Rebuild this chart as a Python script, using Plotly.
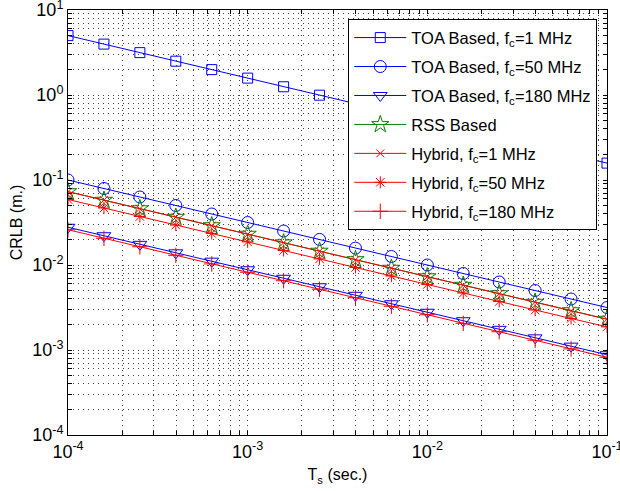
import plotly.graph_objects as go

# Sampling time (s): 5 points per decade
ts = [1.0e-4, 1.585e-4, 2.512e-4, 3.981e-4, 6.310e-4,
      1.0e-3, 1.585e-3, 2.512e-3, 3.981e-3, 6.310e-3,
      1.0e-2, 1.585e-2, 2.512e-2, 3.981e-2, 6.310e-2, 1.0e-1]

toa_1 = [5.0, 3.97, 3.15, 2.50, 1.99, 1.58, 1.25, 0.995, 0.79, 0.628,
         0.50, 0.397, 0.315, 0.25, 0.199, 0.158]
toa_50 = [0.100, 0.0794, 0.0631, 0.0501, 0.0398, 0.0316, 0.0251, 0.0200,
          0.0158, 0.0126, 0.0100, 0.00794, 0.00631, 0.00501, 0.00398, 0.00316]
toa_180 = [0.0278, 0.0221, 0.0175, 0.0139, 0.0111, 0.00879, 0.00698, 0.00555,
           0.00440, 0.00350, 0.00278, 0.00221, 0.00175, 0.00139, 0.00111, 0.00088]
rss = [0.0730, 0.0580, 0.0461, 0.0366, 0.0291, 0.0231, 0.0183, 0.0146,
       0.0116, 0.00920, 0.00730, 0.00580, 0.00461, 0.00366, 0.00291, 0.00231]
hyb_1 = [0.0729, 0.0579, 0.0460, 0.0365, 0.0290, 0.0230, 0.0183, 0.0145,
         0.0115, 0.00918, 0.00729, 0.00579, 0.00460, 0.00365, 0.00290, 0.00230]
hyb_50 = [0.0590, 0.0468, 0.0372, 0.0295, 0.0235, 0.0187, 0.0148, 0.0118,
          0.00935, 0.00743, 0.00590, 0.00468, 0.00372, 0.00295, 0.00235, 0.00187]
hyb_180 = [0.0260, 0.0206, 0.0164, 0.0130, 0.0103, 0.00822, 0.00653, 0.00519,
           0.00412, 0.00327, 0.00260, 0.00206, 0.00164, 0.00130, 0.00103, 0.00082]

x_decades = [-4, -3, -2, -1]
y_decades = [-4, -3, -2, -1, 0, 1]

BLUE = "rgb(0,0,255)"
GREEN = "rgb(0,128,0)"
RED = "rgb(255,0,0)"
FONT = "Liberation Sans, Arial, sans-serif"

series = [
    ("TOA Based, f<sub>c</sub>=1 MHz", toa_1, BLUE, "square-open", 10),
    ("TOA Based, f<sub>c</sub>=50 MHz", toa_50, BLUE, "circle-open", 12),
    ("TOA Based, f<sub>c</sub>=180 MHz", toa_180, BLUE, "triangle-down-open", 12),
    ("RSS Based", rss, GREEN, "star-open", 13),
    ("Hybrid, f<sub>c</sub>=1 MHz", hyb_1, RED, "x-thin-open", 8),
    ("Hybrid, f<sub>c</sub>=50 MHz", hyb_50, RED, "asterisk-open", 10),
    ("Hybrid, f<sub>c</sub>=180 MHz", hyb_180, RED, "cross-thin-open", 11),
]

fig = go.Figure()
for i, (name, vals, col, sym, sz) in enumerate(series):
    fig.add_trace(go.Scatter(
        x=ts, y=vals, name=name, mode="lines+markers", legendgroup="g%d" % i,
        line=dict(color=col, width=1),
        marker=dict(symbol=sym, size=sz, color=col,
                    line=dict(color=col, width=1)),
    ))


def log_ticks(decades):
    vals, texts = [], []
    for i, d in enumerate(decades):
        vals.append(10.0 ** d)
        texts.append("10<sup>%d</sup>" % d)
        if i < len(decades) - 1:
            for m in range(2, 10):
                vals.append(m * 10.0 ** d)
                texts.append("")
    return vals, texts


xv, xt = log_ticks(x_decades)
yv, yt = log_ticks(y_decades)

axis_common = dict(
    type="log", showline=True, linecolor="black", linewidth=1, mirror="ticks",
    ticks="inside", ticklen=4, tickcolor="black", automargin=False,
    showgrid=True, gridcolor="rgba(0,0,0,0.75)", griddash="1px,4px", gridwidth=1,
    zeroline=False, ticklabeloverflow="allow",
    tickfont=dict(family=FONT, size=18, color="black"),
)

fig.update_xaxes(**axis_common, range=[-4, -1], tickvals=xv, ticktext=xt,
                 title=dict(text="T<sub>s</sub> (sec.)", standoff=8,
                            font=dict(family=FONT, size=16, color="black")))
fig.update_yaxes(**axis_common, range=[-4, 1], tickvals=yv, ticktext=yt,
                 title=dict(text="CRLB (m.)", standoff=5,
                            font=dict(family=FONT, size=16, color="black")))

fig.update_layout(
    width=620, height=491,
    margin=dict(l=68, r=13, t=10, b=56),
    paper_bgcolor="white", plot_bgcolor="white",
    font=dict(family=FONT, size=16, color="black"),
    showlegend=True,
    legend=dict(x=0.52, y=0.978, xanchor="left", yanchor="top",
                bgcolor="white", bordercolor="black", borderwidth=1,
                font=dict(family=FONT, size=16.5), tracegroupgap=4.5, itemwidth=52),
)

fig.write_html("out.html", config={"displayModeBar": False},
               post_script="document.body.style.margin='0';document.body.style.overflow='hidden';")
